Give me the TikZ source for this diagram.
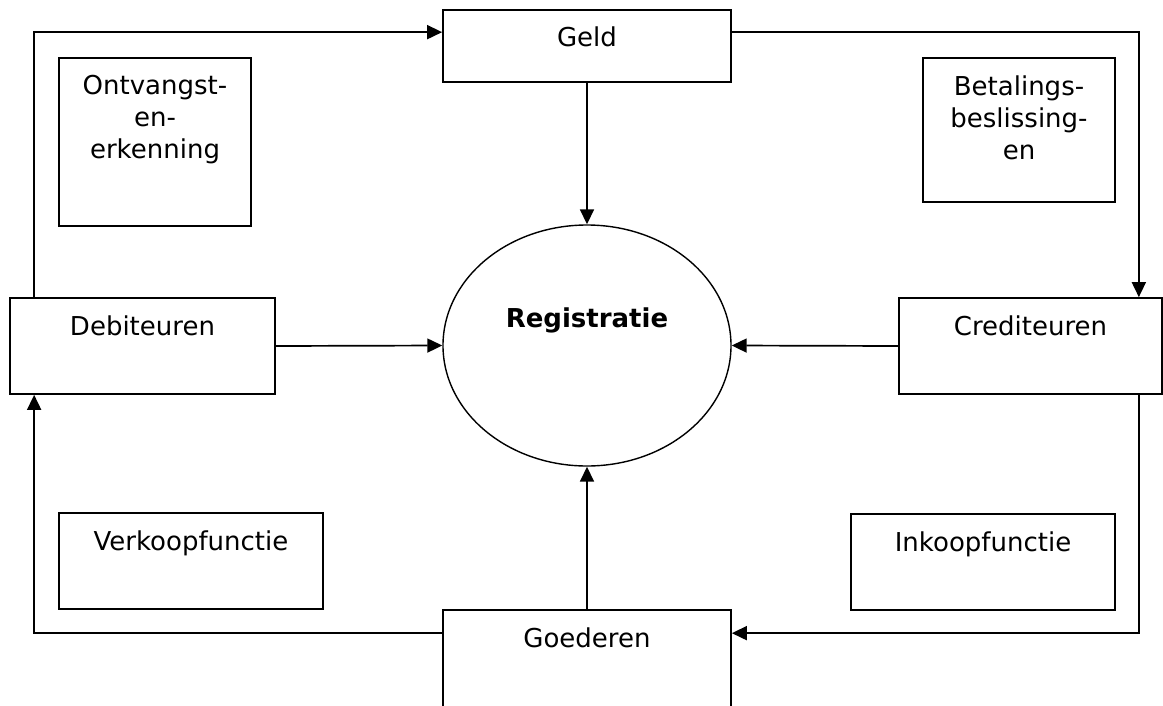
\documentclass[tikz,border=0pt]{standalone}
\usepackage{fontspec}
\setmainfont{DejaVu Sans}
\usetikzlibrary{arrows.meta,shapes.geometric}
\begin{document}
\begin{tikzpicture}[x=1pt,y=-1pt,
  every node/.style={font=\fontsize{26}{32}\selectfont},
  box/.style={draw,line width=1.7pt,rectangle,inner sep=0pt},
  lab/.style={anchor=north,yshift=-18pt,inner sep=0pt,align=center},
  arr/.style={line width=1.7pt,-{Triangle[length=15pt,width=14pt]}}]
\clip (0,0) rectangle (1163,705);
\useasboundingbox (0,0) rectangle (1163,705);

% boxes
\node[box,minimum width=288pt,minimum height=72pt,label={[lab,yshift=1pt]north:Geld}] (geld) at (587,46) {};
\node[box,minimum width=192pt,minimum height=168pt,label={[lab]north:Ontvangst-\\en-\\erkenning}] (ontv) at (155,142) {};
\node[box,minimum width=192pt,minimum height=144pt,label={[lab]north:Betalings-\\beslissing-\\en}] (betal) at (1019,130) {};
\node[box,minimum width=265pt,minimum height=96pt,label={[lab]north:Debiteuren}] (debit) at (142.5,346) {};
\node[box,minimum width=263pt,minimum height=96pt,label={[lab]north:Crediteuren}] (cred) at (1030.5,346) {};
\node[box,minimum width=264pt,minimum height=96pt,label={[lab]north:Verkoopfunctie}] (verk) at (191,561) {};
\node[box,minimum width=264pt,minimum height=96pt,label={[lab]north:Inkoopfunctie}] (inkoop) at (983,562) {};
\node[box,minimum width=288pt,minimum height=150pt,label={[lab]north:Goederen}] (goed) at (587,685) {};

% central register
\node[draw,line width=1.4pt,ellipse,inner sep=0pt,minimum width=288pt,minimum height=241pt] (reg) at (587,345.5) {};
\node[anchor=base,inner sep=0pt,font=\fontsize{26}{32}\selectfont\bfseries] (regt) at (587,327) {Registratie};

% flows
\draw[arr] ([xshift=25pt]debit.north west) |- ([yshift=-23pt]geld.north west);
\draw[arr] ([yshift=-23pt]geld.north east) -| ([xshift=-24pt]cred.north east);
\draw[arr] (geld.south) -- (reg.north);
\draw[arr] (debit.east) -- (reg.west);
\draw[arr] (cred.west) -- (reg.east);
\draw[arr] (goed.north) -- (reg.south);
\draw[arr] ([yshift=-24pt]goed.north west) -| ([xshift=25pt]debit.south west);
\draw[arr] ([xshift=-24pt]cred.south east) |- ([yshift=-24pt]goed.north east);
\end{tikzpicture}
\end{document}
